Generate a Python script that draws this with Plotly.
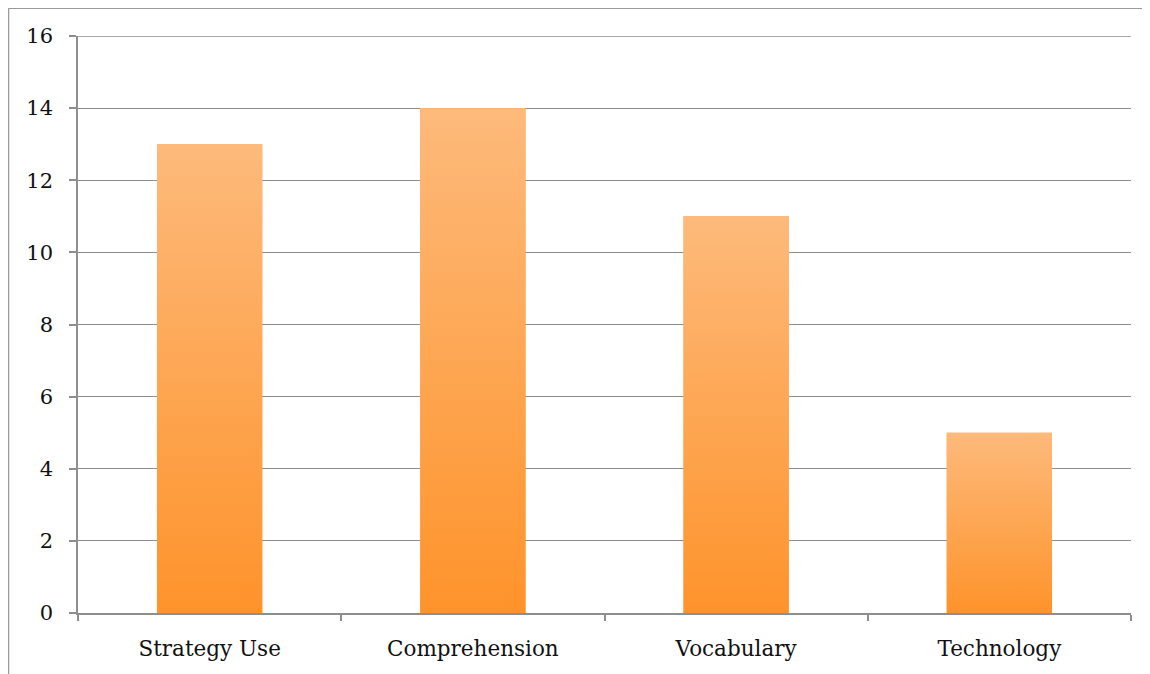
import plotly.graph_objects as go

categories = ["Strategy Use", "Comprehension", "Vocabulary", "Technology"]
values = [13, 14, 11, 5]
y_ticks = [0, 2, 4, 6, 8, 10, 12, 14, 16]

BAR_WIDTH = 0.4
TOP_COLOR = "#FDBA7B"
BOTTOM_COLOR = "#FE932B"
GRID = "#8E8E8E"
FONT = "DejaVu Serif"

# page body adds an 8px offset; compensate
W, H = 1142, 666
ML, MR, MT, MB = 70, 19, 28, 61
PW, PH = W - ML - MR, H - MT - MB

fig = go.Figure()

fig.add_trace(go.Bar(
    x=categories, y=values, width=BAR_WIDTH,
    marker=dict(color="#FEA656", line=dict(width=0)),
    showlegend=False, hoverinfo="x+y",
))

for i, v in enumerate(values):
    fig.add_trace(go.Scatter(
        x=[i - BAR_WIDTH / 2, i + BAR_WIDTH / 2, i + BAR_WIDTH / 2, i - BAR_WIDTH / 2, i - BAR_WIDTH / 2],
        y=[0, 0, v, v, 0],
        xaxis="x2", mode="lines", line=dict(width=0),
        fill="toself",
        fillgradient=dict(type="vertical",
                          colorscale=[[0, BOTTOM_COLOR], [1, TOP_COLOR]]),
        showlegend=False, hoverinfo="skip",
    ))

n = len(categories)
fig.update_layout(
    width=W, height=H,
    margin=dict(l=ML, r=MR, t=MT, b=MB),
    paper_bgcolor="white", plot_bgcolor="white",
    font=dict(family=FONT, size=21, color="#111"),
    bargap=0.6,
    xaxis=dict(
        type="category", range=[-0.5, n - 0.5],
        showgrid=False, showline=True, linecolor=GRID, linewidth=1.5,
        ticks="outside", tickson="boundaries", ticklen=6, tickcolor=GRID, tickwidth=1.5,
        tickfont=dict(family=FONT, size=21.5),
        zeroline=False, ticklabelstandoff=15,
    ),
    xaxis2=dict(
        overlaying="x", range=[-0.5, n - 0.5], visible=False,
    ),
    yaxis=dict(
        range=[0, 16], tickvals=y_ticks,
        showgrid=True, gridcolor=GRID, gridwidth=1.3,
        showline=True, linecolor=GRID, linewidth=1.5,
        ticks="outside", ticklen=7, tickcolor=GRID, tickwidth=1.5,
        tickfont=dict(family=FONT, size=21),
        zeroline=False, ticklabelstandoff=12,
    ),
)

# top gridline at the range edge
fig.add_shape(type="line", xref="paper", yref="y", x0=0, x1=1,
              y0=y_ticks[-1], y1=y_ticks[-1], line=dict(color=GRID, width=1.3),
              layer="below")

# outer frame (left and top edges)
x_left = (0.5 - ML) / PW
x_right = (W + 10 - ML) / PW
y_top = (H - MB - 0.2) / PH
y_bottom = -(MB + 10) / PH
fig.add_shape(type="line", xref="paper", yref="paper", x0=x_left, x1=x_left,
              y0=y_bottom, y1=y_top, line=dict(color="#9A9A9A", width=1.5))
fig.add_shape(type="line", xref="paper", yref="paper", x0=x_left, x1=x_right,
              y0=y_top, y1=y_top, line=dict(color="#9A9A9A", width=1.5))

fig.write_html("out.html")
